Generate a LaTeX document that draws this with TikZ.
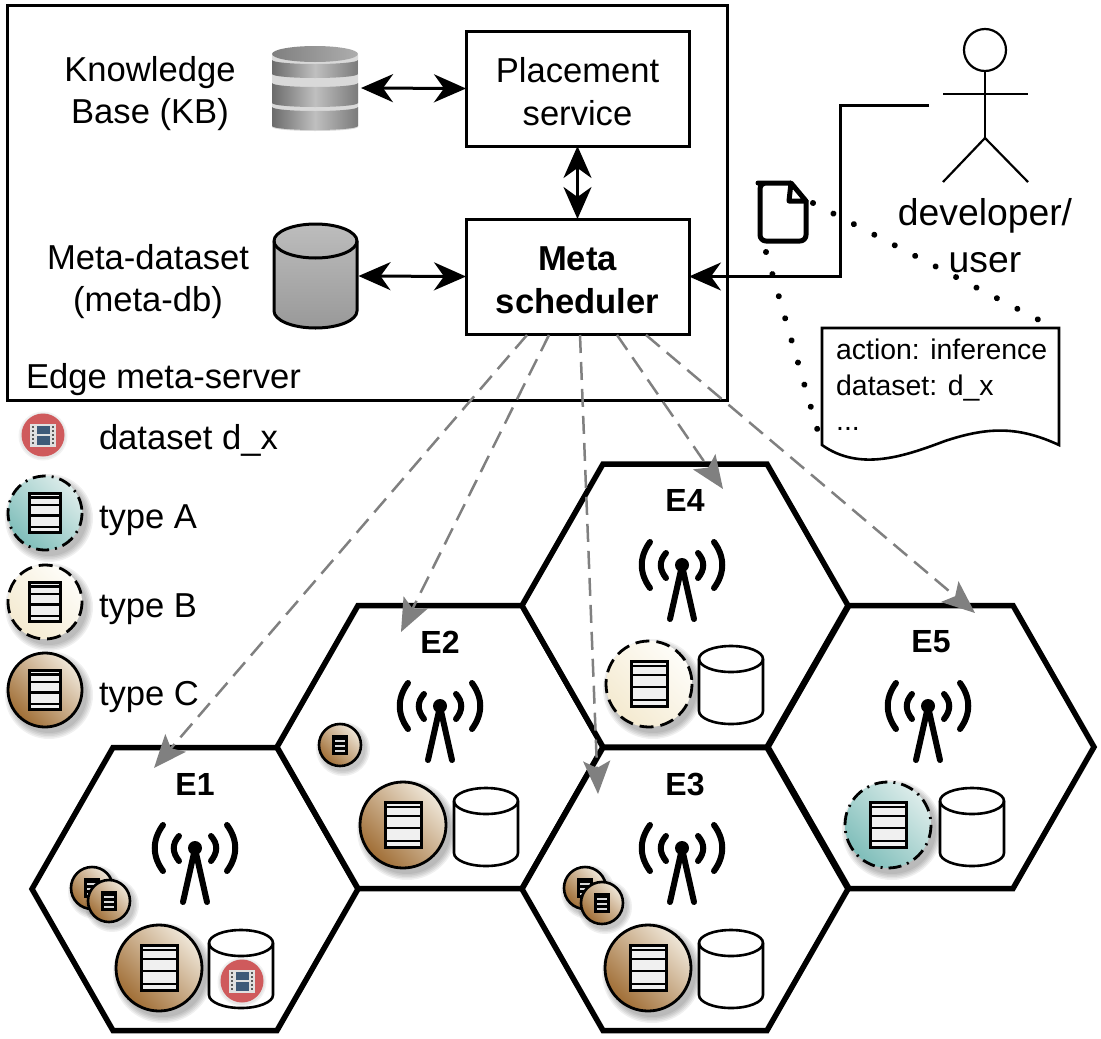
\documentclass[tikz,border=0pt]{standalone}
\usepackage{fontspec}
\setmainfont{Liberation Sans}
\usetikzlibrary{arrows.meta,shapes.geometric}
\definecolor{gBrownL}{HTML}{EFE6D8}
\definecolor{gBrownD}{HTML}{A06E35}
\definecolor{gTealL}{HTML}{DCECEA}
\definecolor{gTealD}{HTML}{7FBEBA}
\definecolor{gCreamL}{HTML}{FEFDF9}
\definecolor{gCreamD}{HTML}{F4EAD0}
\definecolor{filmRed}{HTML}{CF5A5C}
\definecolor{filmBlue}{HTML}{3E5A78}
\definecolor{arrowGray}{HTML}{808080}
\tikzset{
  txt/.style={font=\fontsize{34.6}{42.5}\selectfont,align=center,inner sep=0,outer sep=0},
  devtxt/.style={font=\fontsize{37.3}{47}\selectfont,align=center,inner sep=0,outer sep=0},
  hexlabel/.style={font=\fontsize{32}{36}\selectfont\bfseries,inner sep=0},
  smalltxt/.style={font=\fontsize{28.4}{36}\selectfont,inner sep=0,anchor=base west},
  boxnode/.style={draw,line width=3pt,minimum width=223pt,minimum height=115pt,inner sep=0,outer sep=0,align=center,font=\fontsize{34.6}{42.5}\selectfont},
  hexline/.style={draw,line width=5.5pt,line join=miter,fill=white},
  dbl/.style={line width=3pt,{Stealth[length=32pt,width=28pt,inset=10pt]}-{Stealth[length=32pt,width=28pt,inset=10pt]}},
  sgl/.style={line width=3pt,-{Stealth[length=32pt,width=28pt,inset=10pt]}},
  sched/.style={draw=arrowGray,line width=2.5pt,dash pattern=on 18pt off 9pt,-{Stealth[length=33pt,width=27pt,inset=7pt]}},
  dots/.style={line width=6pt,line cap=round,dash pattern=on 0.01pt off 23pt},
  anchorbox/.style={inner sep=0,outer sep=0},
  antline/.style={line width=6pt,line cap=round},
  cylline/.style={draw,line width=2.6pt,fill=white},
  actor/.style={line width=2.2pt},
  brownC/.style={left color=gBrownL,right color=gBrownD,shading angle=-45},
  tealC/.style={left color=gTealL,right color=gTealD,shading angle=-45},
  creamC/.style={left color=gCreamL,right color=gCreamD,shading angle=-45},
  solidB/.style={solid},
  dashB/.style={dash pattern=on 14pt off 7pt},
  dotB/.style={dash pattern=on 13pt off 6pt on 2pt off 6pt},
  kbshade/.style={left color=black!58,right color=black!52,middle color=black!25},
}
% x, y, r, fill style, border style
\newcommand{\discsrv}[5]{%
  \foreach \k in {7,5.5,4,2.5,1}{\fill[black,opacity=.06] ({#1+4},{#2+5}) circle ({#3+\k});}
  \shade[#4] (#1,#2) circle (#3);
  \draw[line width=2.8pt,#5] (#1,#2) circle (#3);
  \begin{scope}[shift={(#1,#2)}]
    \pgfmathsetmacro{\qs}{#3/43}
    \fill[black!6] ({-18*\qs},{-22.5*\qs}) rectangle ({18*\qs},{22.5*\qs});
    \draw[line width=3pt] ({-18*\qs},{-22.5*\qs}) rectangle ({18*\qs},{22.5*\qs});
    \foreach \v in {-18,-9,3,16}{\draw[line width=2.2pt] ({-18*\qs},{\v*\qs}) -- ({18*\qs},{\v*\qs});}
  \end{scope}
}
\newcommand{\smalldisc}[2]{%
  \foreach \k in {6,4.5,3,1.5}{\fill[black,opacity=.06] ({#1+3},{#2+4}) circle ({21+\k});}
  \shade[brownC] (#1,#2) circle (21);
  \draw[line width=2.6pt] (#1,#2) circle (21);
  \fill[black] ({#1-8},{#2-10}) rectangle ({#1+8},{#2+10});
  \foreach \v in {-4,1,6}{\fill[white!85!black] ({#1-5},{#2+\v-1}) rectangle ({#1+5},{#2+\v+1});}
}
% x, y(centre), half width, half height, ry, extra fill
\newcommand{\cyl}[6]{%
  \path[draw,line width=2.6pt,#6] ({#1-#3},{#2-#4}) -- ({#1-#3},{#2+#4}) arc[start angle=180,end angle=0,x radius=#3,y radius=#5] -- ({#1+#3},{#2-#4}) arc[start angle=0,end angle=-180,x radius=#3,y radius=#5] -- cycle;
  \draw[line width=2.6pt] ({#1-#3},{#2-#4}) arc[start angle=180,end angle=0,x radius=#3,y radius=#5];
}
\newcommand{\antenna}[2]{%
  \fill (#1,#2) circle (7);
  \draw[antline] ({#1-1},{#2+5}) -- ({#1-12},{#2+54});
  \draw[antline] ({#1+1},{#2+5}) -- ({#1+12},{#2+54});
  \foreach \s in {-1,1}{
    \draw[antline] ({#1+\s*32},{#2-23}) .. controls ({#1+\s*43},{#2-8}) and ({#1+\s*43},{#2+8}) .. ({#1+\s*32},{#2+23});
    \draw[antline] ({#1+\s*16},{#2-12}) .. controls ({#1+\s*23},{#2-4}) and ({#1+\s*23},{#2+4}) .. ({#1+\s*16},{#2+13});
  }
}
\newcommand{\hexagon}[2]{%
  \path[hexline] ({#1-163},#2) -- ({#1-82},{#2-141.5}) -- ({#1+82},{#2-141.5}) -- ({#1+163},#2) -- ({#1+82},{#2+141.5}) -- ({#1-82},{#2+141.5}) -- cycle;
}
\newcommand{\film}[2]{%
  \foreach \k in {3,1.5}{\fill[black,opacity=.05] (#1,{#2+1}) circle ({21.5+\k});}
  \fill[filmRed] (#1,#2) circle (21.5);
  \fill[black!12] ({#1-13},{#2-11.5}) rectangle ({#1+13},{#2+11.5});
  \fill[filmBlue] ({#1-6.5},{#2-9.5}) rectangle ({#1+6.5},{#2-1});
  \fill[filmBlue] ({#1-6.5},{#2+1}) rectangle ({#1+6.5},{#2+9.5});
  \foreach \s in {-10,10}\foreach \v in {-8,-4,0,4,8}{\fill[black!65] ({#1+\s-1.3},{#2+\v-1.1}) rectangle ({#1+\s+1.3},{#2+\v+1.1});}
}
% top side y, bottom side y
\newcommand{\kbband}[2]{%
  \shade[kbshade] (272,#1) arc[start angle=180,end angle=0,x radius=43,y radius=4] -- (358,#2) arc[start angle=0,end angle=180,x radius=43,y radius=4] -- cycle;
}
\begin{document}
\begin{tikzpicture}[x=1pt,y=-1pt]
\useasboundingbox (0,0) rectangle (1101,1039);
% hexagons
\hexagon{195}{889}
\hexagon{440}{747}
\hexagon{685}{889}
\hexagon{685}{605.5}
\hexagon{931}{747}
\node[hexlabel] (e1) at (195,784) {E1};
\node[hexlabel] (e2) at (440,642) {E2};
\node[hexlabel] (e3) at (685,784) {E3};
\node[hexlabel] (e4) at (685,500) {E4};
\node[hexlabel] (e5) at (931,642) {E5};
\antenna{195}{848}
\antenna{440}{706}
\antenna{682}{848}
\antenna{682}{565}
\antenna{928}{706}
% E1
\smalldisc{92}{888}
\smalldisc{109}{901}
\discsrv{159}{968}{43}{brownC}{solidB}
\cyl{241}{969}{32}{26}{13}{fill=white}
\film{242}{981}
% E2
\smalldisc{340}{745}
\discsrv{403}{825}{43}{brownC}{solidB}
\cyl{486}{827}{32}{26}{13}{fill=white}
% E3
\smalldisc{585}{888}
\smalldisc{602}{903}
\discsrv{648}{968}{43}{brownC}{solidB}
\cyl{731}{969}{32}{26}{13}{fill=white}
% E4
\discsrv{649}{684}{43}{creamC}{dashB}
\cyl{731}{685}{32}{26}{13}{fill=white}
% E5
\discsrv{888}{825}{43}{tealC}{dotB}
\cyl{972}{827}{32}{26}{13}{fill=white}
% legend
\film{43}{435}
\discsrv{45}{513}{37}{tealC}{dotB}
\discsrv{45}{602}{37}{creamC}{dashB}
\discsrv{45}{690}{37}{brownC}{solidB}
\node[txt,anchor=base west] (lgd) at (99,449) {dataset d\_x};
\node[txt,anchor=base west] (lga) at (99,528) {type A};
\node[txt,anchor=base west] (lgb) at (99,617) {type B};
\node[txt,anchor=base west] (lgc) at (99,705) {type C};
% server
\node[draw,line width=3pt,minimum width=720pt,minimum height=395pt,inner sep=0,outer sep=0] (server) at (367,202.5) {};
\node[txt,anchor=base west] (srvl) at (26,388) {Edge meta-server};
\node[boxnode] (place) at (577.5,88.5) {\rule{0pt}{31pt}Placement\\service};
\node[boxnode] (meta) at (577.5,276.5) {\rule{0pt}{31pt}\bfseries Meta\\\bfseries scheduler};
\node[txt] (kbl) at (150,93.5) {Knowledge\\Base (KB)};
\node[txt] (mdl) at (148,281.5) {Meta-dataset\\(meta-db)};
% KB icon
\node[anchorbox,minimum width=88pt,minimum height=86pt] (kb) at (316,88) {};
\path[fill=black!15] (272,55) -- (272,127) arc[start angle=180,end angle=0,x radius=43,y radius=4] -- (358,55) -- cycle;
\kbband{60}{74}
\kbband{83}{103}
\kbband{107}{126}
\shade[left color=black!50,right color=black!32] (315,54) ellipse [x radius=43,y radius=8];
% meta-db icon
\node[anchorbox,minimum width=85pt,minimum height=104pt] (mdb) at (315,276) {};
\path[draw,line width=3pt,top color=black!26,bottom color=black!40] (274,241) -- (274,311) arc[start angle=180,end angle=0,x radius=41.5,y radius=17] -- (357,241) arc[start angle=0,end angle=-180,x radius=41.5,y radius=17] -- cycle;
\draw[line width=3pt] (274,241) arc[start angle=180,end angle=0,x radius=41.5,y radius=17];
% arrows
\draw[dbl] (kb.east) ++(1,0) -- (place.west);
\draw[dbl] (mdb.east) ++(1,0) -- (meta.west);
\draw[dbl] (place.south) -- (meta.north);
% actor
\node[draw,circle,actor,minimum size=42pt,inner sep=0,outer sep=0] (head) at (985,50) {};
\coordinate (hip) at (985,138);
\coordinate (armL) at (943,94);
\coordinate (armR) at (1028,94);
\coordinate (legL) at (943,182);
\coordinate (legR) at (1028,182);
\draw[actor] (head.south) -- (hip);
\draw[actor] (armL) -- (armR);
\draw[actor] (legL) -- (hip) -- (legR);
\node[devtxt] (devl) at (985,236) {developer/\\user};
% user connector
\coordinate (usr) at (929,105);
\coordinate (cA) at (840,105);
\coordinate (cB) at (840,276.5);
\draw[sgl] (usr) -- (cA) -- (cB) -- (meta.east);
% note
\coordinate (noteA) at (822,328);
\coordinate (noteB) at (1059,328);
\path[draw,line width=2.6pt,fill=white] (noteA) -- (noteB) -- (1059,445) .. controls (1020,427) and (990,426) .. (945,441) .. controls (905,456) and (860,472) .. (822,445) -- cycle;
\node[smalltxt] (n1) at (836,359) {action: inference};
\node[smalltxt] (n2) at (836,395) {dataset: d\_x};
\node[smalltxt] (n3) at (836,430) {...};
% file icon
\node[anchorbox,minimum width=50pt,minimum height=60pt] (file) at (783,212) {};
\draw[line width=5pt,line join=round,rounded corners=6pt] (791,183) -- (764,183) -- (760,183) -- (760,241) -- (806,241) -- (806,200);
\draw[line width=5pt,line join=round] (791,183) -- (806,201) -- (789,201) -- cycle;
\coordinate (dotA) at (813,203);
\coordinate (dotB) at (1040,320.5);
\coordinate (dotC) at (766,252);
\coordinate (dotD) at (817.5,430);
\draw[dots] (dotA) -- (dotB);
\draw[dots] (dotC) -- (dotD);
% scheduler connectors
\coordinate (m1) at (527,335);
\coordinate (m2) at (549,335);
\coordinate (m3) at (580,335);
\coordinate (m4) at (617,335);
\coordinate (m5) at (646,335);
\coordinate (t1) at (154,768);
\coordinate (t2) at (401,632);
\coordinate (t3) at (598,794);
\coordinate (t4) at (723,489);
\coordinate (t5) at (975,613);
\draw[sched] (m1) -- (t1);
\draw[sched] (m2) -- (t2);
\draw[sched] (m3) -- (t3);
\draw[sched] (m4) -- (t4);
\draw[sched] (m5) -- (t5);
\end{tikzpicture}
\end{document}
